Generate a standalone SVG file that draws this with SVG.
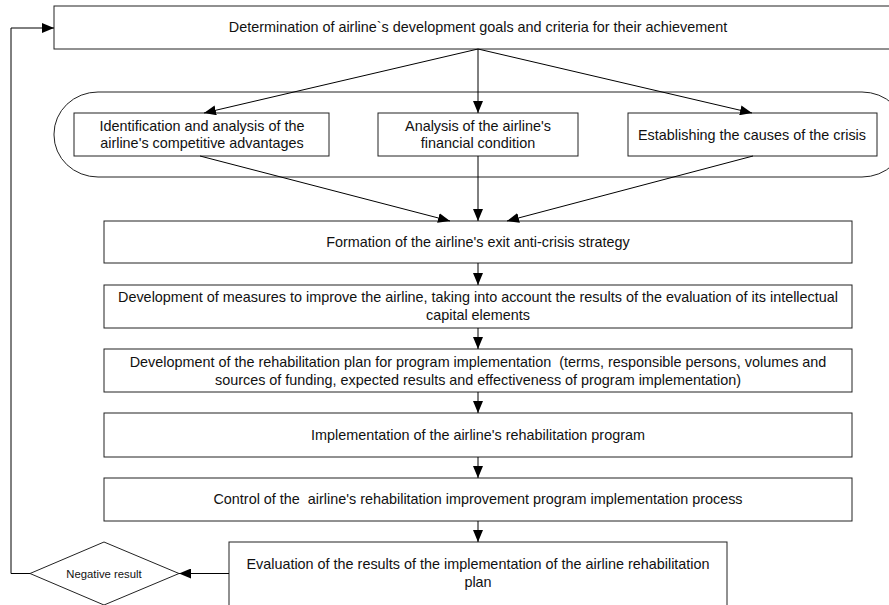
<svg xmlns="http://www.w3.org/2000/svg" width="889" height="605" viewBox="0 0 889 605">
<defs>
<marker id="ah" markerWidth="12" markerHeight="10" refX="12" refY="5" orient="auto" markerUnits="userSpaceOnUse">
<path d="M0,0 L12,5 L0,10 Z" fill="#000"/>
</marker>
<style>
.box{fill:#fff;stroke:#222;stroke-width:1}
.t{font-family:"Liberation Sans",Arial,sans-serif;font-size:14.4px;fill:#111;text-anchor:middle;white-space:pre}
.s{font-family:"Liberation Sans",Arial,sans-serif;font-size:11.3px;fill:#111;text-anchor:middle}
.c{fill:none;stroke:#000;stroke-width:1}
</style>
</defs>
<rect width="889" height="605" fill="#fff"/>
<g id="goals">
<rect class="box" x="54" y="6" width="850" height="43"/>
<text class="t" x="478" y="32">Determination of airline`s development goals and criteria for their achievement</text>
</g>
<g id="group">
<rect class="box" x="54" y="92" width="852" height="85" rx="44" ry="42"/>
</g>
<g id="advantages">
<rect class="box" x="74" y="113" width="255" height="43"/>
<text class="t" x="202" y="131">Identification and analysis of the</text>
<text class="t" x="202" y="148">airline's competitive advantages</text>
</g>
<g id="financial">
<rect class="box" x="378" y="113" width="200" height="43"/>
<text class="t" x="478" y="131">Analysis of the airline's</text>
<text class="t" x="478" y="148">financial condition</text>
</g>
<g id="causes">
<rect class="box" x="628" y="113" width="249" height="43"/>
<text class="t" x="752" y="140">Establishing the causes of the crisis</text>
</g>
<g id="strategy">
<rect class="box" x="104" y="221" width="748" height="42"/>
<text class="t" x="478" y="247">Formation of the airline's exit anti-crisis strategy</text>
</g>
<g id="measures">
<rect class="box" x="104" y="285" width="748" height="43"/>
<text class="t" x="478" y="302">Development of measures to improve the airline, taking into account the results of the evaluation of its intellectual</text>
<text class="t" x="478" y="320">capital elements</text>
</g>
<g id="plan">
<rect class="box" x="104" y="349" width="748" height="43"/>
<text class="t" x="478" y="367">Development of the rehabilitation plan for program implementation  (terms, responsible persons, volumes and</text>
<text class="t" x="478" y="385">sources of funding, expected results and effectiveness of program implementation)</text>
</g>
<g id="implementation">
<rect class="box" x="104" y="413" width="748" height="44"/>
<text class="t" x="478" y="440">Implementation of the airline's rehabilitation program</text>
</g>
<g id="control">
<rect class="box" x="104" y="478" width="748" height="43"/>
<text class="t" x="478" y="504">Control of the  airline's rehabilitation improvement program implementation process</text>
</g>
<g id="evaluation">
<rect class="box" x="229" y="542" width="498" height="80"/>
<text class="t" x="478" y="569">Evaluation of the results of the implementation of the airline rehabilitation</text>
<text class="t" x="478" y="587">plan</text>
</g>
<g id="negative">
<path class="box" d="M30,573.5 L104,542 L179,573.5 L104,605 Z"/>
<text class="s" x="104" y="578">Negative result</text>
</g>
<g id="connectors">
<line class="c" x1="478" y1="49" x2="478" y2="113" marker-end="url(#ah)"/>
<line class="c" x1="478" y1="49" x2="204" y2="113" marker-end="url(#ah)"/>
<line class="c" x1="478" y1="49" x2="752" y2="113" marker-end="url(#ah)"/>
<line class="c" x1="200" y1="156" x2="450" y2="221" marker-end="url(#ah)"/>
<line class="c" x1="478" y1="156" x2="478" y2="221" marker-end="url(#ah)"/>
<line class="c" x1="753" y1="156" x2="507" y2="221" marker-end="url(#ah)"/>
<line class="c" x1="478" y1="263" x2="478" y2="285" marker-end="url(#ah)"/>
<line class="c" x1="478" y1="328" x2="478" y2="349" marker-end="url(#ah)"/>
<line class="c" x1="478" y1="392" x2="478" y2="413" marker-end="url(#ah)"/>
<line class="c" x1="478" y1="457" x2="478" y2="478" marker-end="url(#ah)"/>
<line class="c" x1="478" y1="521" x2="478" y2="542" marker-end="url(#ah)"/>
<line class="c" x1="229" y1="573.5" x2="179" y2="573.5" marker-end="url(#ah)"/>
<path class="c" d="M30,573.5 H11 V28 H54" stroke="#444" marker-end="url(#ah)"/>
</g>
</svg>
